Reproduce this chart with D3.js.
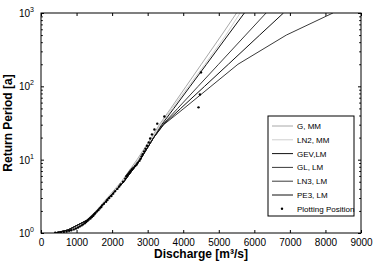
<!DOCTYPE html>
<html><head><meta charset="utf-8">
<script src="https://cdn.jsdelivr.net/npm/d3@7"></script>
<style>
body{margin:0;background:#fff;}
svg{display:block;font-family:'Liberation Sans',Arial,sans-serif;}
</style></head><body>
<svg id="chart"></svg>
<script>
// return periods at which each fitted distribution is drawn
const returnPeriods=[1.01,1.1,1.5,2,3,5,10,20,30,50,100,200,500,1000];
const qGumbelMM=[480,780,1280,1550,1860,2260,2700,3110,3330,3650,4080,4510,5080,5500];
const qLN2MM=[450,770,1290,1560,1880,2290,2740,3140,3360,3690,4150,4610,5200,5600];
const qGEV=[430,760,1300,1580,1900,2330,2790,3170,3395,3735,4195,4655,5260,5720];
const qGL=[430,760,1300,1580,1900,2330,2790,3170,3450,4020,4780,5540,6900,8210];
const qLN3=[430,760,1300,1580,1900,2330,2790,3170,3420,3845,4420,4995,5755,6330];
const qPE3=[430,760,1300,1580,1900,2330,2790,3170,3440,3930,4600,5270,6150,6820];
const seriesNames=['G, MM','LN2, MM','GEV,LM','GL, LM','LN3, LM','PE3, LM'];
const seriesColors=['#a8a8a8','#cfcfcf','#111','#3a3a3a','#3a3a3a','#111'];
// plotting positions: return period, discharge
const ppT=[155,77.5,51.7,38.8,31,25.8,22.1,19.4,17.2,15.5,14.1,12.9,11.9,11.1,10.3,9.7,9.1,8.6,8.2,7.75,7.4,7.05,6.74,6.46,6.2,5.96,5.5,5.0,4.6,4.3,4.0,3.7,3.44,3.2,3.0,2.82,2.66,2.5,2.38,2.25,2.15,2.05,1.96,1.87,1.8,1.72,1.65,1.58,1.52,1.47,1.41,1.36,1.31,1.27,1.23,1.19,1.15,1.12,1.09,1.07,1.05,1.03,1.02,1.01,1.006];
const ppQ=[4500,4470,4430,3470,3270,3190,3120,3070,3030,2980,2940,2900,2860,2830,2800,2770,2720,2690,2650,2600,2560,2520,2490,2460,2430,2400,2370,2310,2240,2200,2150,2080,2030,1980,1920,1870,1830,1770,1720,1690,1650,1610,1570,1530,1500,1470,1430,1390,1340,1310,1270,1230,1180,1140,1090,1040,980,920,850,790,720,640,560,480,400];
const xTicks=[0,1000,2000,3000,4000,5000,6000,7000,8000,9000];
const yDecades=[1,10,100,1000];

const W=375,H=266,m={top:13,right:14,bottom:33,left:41};
const svg=d3.select('#chart').attr('width',W).attr('height',H);
const x=d3.scaleLinear().domain([0,9000]).range([m.left,W-m.right]);
const y=d3.scaleLog().domain([1,1000]).range([H-m.bottom,m.top]);
const minor=[];
yDecades.slice(0,-1).forEach(d=>{for(let k=2;k<10;k++)minor.push(d*k);});

// ticks, inward on all four sides
svg.append('g').attr('transform',`translate(0,${H-m.bottom})`)
  .call(d3.axisBottom(x).tickValues(xTicks).tickFormat(d3.format('d')).tickSize(-3).tickSizeOuter(0).tickPadding(6))
  .call(g=>{g.select('.domain').remove();g.selectAll('text').attr('font-size',10).attr('fill','#000').attr('font-family','Liberation Sans, Arial');});
svg.append('g').attr('transform',`translate(0,${m.top})`)
  .call(d3.axisTop(x).tickValues(xTicks).tickSize(-3).tickSizeOuter(0).tickFormat(''))
  .call(g=>g.select('.domain').remove());
[[d3.axisLeft,m.left],[d3.axisRight,W-m.right]].forEach(([ax,pos])=>{
  svg.append('g').attr('transform',`translate(${pos},0)`)
    .call(ax(y).tickValues(yDecades).tickSize(-3).tickSizeOuter(0).tickFormat(''))
    .call(g=>g.select('.domain').remove());
  svg.append('g').attr('transform',`translate(${pos},0)`)
    .call(ax(y).tickValues(minor).tickSize(-1.8).tickSizeOuter(0).tickFormat(''))
    .call(g=>g.select('.domain').remove());
});
// y tick labels 10^n
yDecades.forEach((d,i)=>{
  const t=svg.append('text').attr('x',m.left-7).attr('y',y(d)+4)
    .attr('text-anchor','end').attr('font-size',10);
  t.append('tspan').text('10');
  t.append('tspan').attr('dy',-5).attr('font-size',7).text(String(i));
});

svg.append('clipPath').attr('id','clip').append('rect')
  .attr('x',m.left).attr('y',m.top).attr('width',W-m.left-m.right).attr('height',H-m.top-m.bottom);
const plot=svg.append('g').attr('clip-path','url(#clip)');
const allQ=[qGumbelMM,qLN2MM,qGEV,qGL,qLN3,qPE3];
const line=d3.line().x(d=>x(d[0])).y(d=>y(d[1]));
allQ.forEach((q,i)=>{
  plot.append('path').datum(q.map((v,j)=>[v,returnPeriods[j]]))
    .attr('d',line).attr('fill','none').attr('stroke',seriesColors[i]).attr('stroke-width',1);
});
plot.selectAll('circle.pp').data(ppQ.map((v,j)=>[v,ppT[j]])).join('circle')
  .attr('class','pp').attr('cx',d=>x(d[0])).attr('cy',d=>y(d[1])).attr('r',1.2).attr('fill','#000');

// frame
svg.append('rect').attr('x',m.left).attr('y',m.top).attr('width',W-m.left-m.right)
  .attr('height',H-m.top-m.bottom).attr('fill','none').attr('stroke','#000').attr('stroke-width',1);

// axis titles
svg.append('text').attr('x',(m.left+W-m.right)/2).attr('y',258).attr('text-anchor','middle')
  .attr('font-size',12).attr('font-weight','bold').text('Discharge [m³/s]');
svg.append('text').attr('transform',`translate(12,${(m.top+H-m.bottom)/2}) rotate(-90)`)
  .attr('text-anchor','middle').attr('font-size',12).attr('font-weight','bold').text('Return Period [a]');

// legend
const lg=svg.append('g').attr('transform','translate(268,116)');
lg.append('rect').attr('width',86).attr('height',100).attr('fill','#fff').attr('stroke','#000');
seriesNames.forEach((n,i)=>{
  const yy=10+i*13.8;
  lg.append('line').attr('x1',4).attr('x2',25).attr('y1',yy).attr('y2',yy)
    .attr('stroke',seriesColors[i]).attr('stroke-width',1);
  lg.append('text').attr('x',29).attr('y',yy+3).attr('font-size',8).text(n);
});
lg.append('circle').attr('cx',14).attr('cy',10+6*13.8).attr('r',1.2).attr('fill','#000');
lg.append('text').attr('x',29).attr('y',10+6*13.8+3).attr('font-size',8).text('Plotting Position');
</script></body></html>
